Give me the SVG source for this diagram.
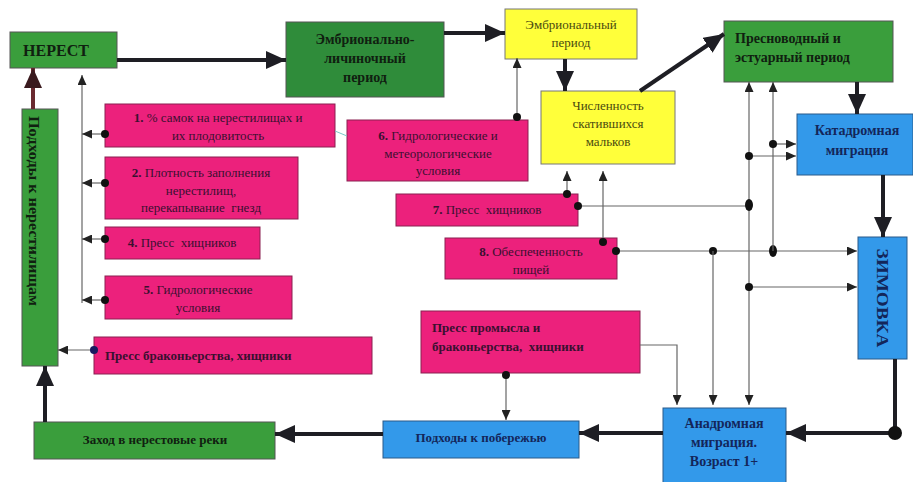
<svg xmlns="http://www.w3.org/2000/svg" width="913" height="482" viewBox="0 0 913 482">
<defs>
<style>
.green{fill:#3a9e3c;stroke:#555;stroke-width:1}
.dgreen{fill:#2f8c3a;stroke:#555;stroke-width:1}
.yellow{fill:#ffff3a;stroke:#777;stroke-width:1}
.blue{fill:#3399ea;stroke:#2a5a8a;stroke-width:1}
.pink{fill:#ec217c;stroke:#8a2050;stroke-width:1}
text{font-family:"Liberation Serif","Times New Roman",serif;text-anchor:middle;white-space:pre}
.b{font-weight:bold}
.tg{fill:#102010}
.tb{fill:#13265a}
.ty{fill:#4a4a10;font-size:13px}
.tp{fill:#3a1030;font-size:13px}
.thick{fill:none;stroke:#1e1e24;stroke-width:4}
.thin{fill:none;stroke:#666;stroke-width:1.2}
.dot{fill:#111}
</style>
<marker id="big" markerUnits="userSpaceOnUse" markerWidth="20" markerHeight="18" viewBox="0 0 20 18" refX="20" refY="9" orient="auto"><path d="M0,0 L20,9 L0,18 Z" fill="#1e1e24"/></marker>
<marker id="bigb" markerUnits="userSpaceOnUse" markerWidth="20" markerHeight="18" viewBox="0 0 20 18" refX="20" refY="9" orient="auto"><path d="M0,0 L20,9 L0,18 Z" fill="#3a1a1e"/></marker>
<marker id="sm" markerUnits="userSpaceOnUse" markerWidth="10" markerHeight="9" viewBox="0 0 10 9" refX="10" refY="4.5" orient="auto"><path d="M0,0 L10,4.5 L0,9 Z" fill="#222"/></marker>
</defs>

<g id="nerest">
<rect class="green" x="10" y="32" width="107" height="36"/>
<text class="b tg" x="56" y="56" font-size="16">НЕРЕСТ</text>
</g>
<g id="embr-lich">
<rect class="dgreen" x="286" y="22" width="158" height="75"/>
<text class="b tg" x="365" y="44" font-size="14">Эмбрионально-</text>
<text class="b tg" x="365" y="63" font-size="14">личиночный</text>
<text class="b tg" x="365" y="82" font-size="14">период</text>
</g>
<g id="embr">
<rect class="yellow" x="505" y="9" width="132" height="50"/>
<text class="ty" x="571" y="29">Эмбриональный</text>
<text class="ty" x="571" y="47">период</text>
</g>
<g id="chisl">
<rect class="yellow" x="541" y="91" width="134" height="73"/>
<text class="ty" x="608" y="110">Численность</text>
<text class="ty" x="608" y="128">скатившихся</text>
<text class="ty" x="608" y="146">мальков</text>
</g>
<g id="presn">
<rect class="green" x="724" y="21" width="169" height="61"/>
<text class="b tg" x="735" y="43" font-size="14" style="text-anchor:start">Пресноводный и</text>
<text class="b tg" x="735" y="62" font-size="14" style="text-anchor:start">эстуарный период</text>
</g>
<g id="katadr">
<rect class="blue" x="797" y="114" width="116" height="61"/>
<text class="b tb" x="857" y="135" font-size="14">Катадромная</text>
<text class="b tb" x="857" y="155" font-size="14">миграция</text>
</g>
<g id="zimovka">
<rect class="blue" x="858" y="237" width="49" height="122"/>
<text class="b tb" font-size="17" transform="translate(877,298) rotate(90)" textLength="99" lengthAdjust="spacingAndGlyphs">ЗИМОВКА</text>
</g>
<g id="anadr">
<rect class="blue" x="663" y="408" width="123" height="76"/>
<text class="b tb" x="724" y="428" font-size="14">Анадромная</text>
<text class="b tb" x="724" y="447" font-size="14">миграция.</text>
<text class="b tb" x="724" y="466" font-size="14">Возраст 1+</text>
</g>
<g id="podh-pober">
<rect class="blue" x="383" y="421" width="196" height="37"/>
<text class="b tb" x="481" y="442" font-size="13">Подходы к побережью</text>
</g>
<g id="zahod">
<rect class="green" x="34" y="422" width="241" height="37"/>
<text class="b tg" x="155" y="444" font-size="13">Заход в нерестовые реки</text>
</g>
<g id="podh-nerest">
<rect class="green" x="22" y="109" width="36" height="257"/>
<text class="b tg" font-size="14" transform="translate(29,211) rotate(90)" textLength="190" lengthAdjust="spacingAndGlyphs">Подходы к нерестилищам</text>
</g>

<g id="f1">
<rect class="pink" x="105" y="104" width="230" height="43"/>
<text class="tp" x="218" y="122"><tspan class="b">1.</tspan> % самок на нерестилищах и</text>
<text class="tp" x="218" y="140">их плодовитость</text>
</g>
<g id="f2">
<rect class="pink" x="105" y="157" width="193" height="62"/>
<text class="tp" x="201" y="177"><tspan class="b">2.</tspan> Плотность заполнения</text>
<text class="tp" x="201" y="195">нерестилищ,</text>
<text class="tp" x="201" y="212">перекапывание  гнезд</text>
</g>
<g id="f4">
<rect class="pink" x="105" y="227" width="155" height="32"/>
<text class="tp" x="182" y="247"><tspan class="b">4.</tspan> Пресс  хищников</text>
</g>
<g id="f5">
<rect class="pink" x="105" y="276" width="187" height="43"/>
<text class="tp" x="198" y="294"><tspan class="b">5.</tspan> Гидрологические</text>
<text class="tp" x="198" y="312">условия</text>
</g>
<g id="f-brak">
<rect class="pink" x="94" y="337" width="278" height="37"/>
<text class="tp b" x="105" y="360" font-size="14" style="text-anchor:start">Пресс браконьерства, хищники</text>
</g>
<g id="f6">
<rect class="pink" x="347" y="120" width="181" height="61"/>
<text class="tp" x="438" y="140"><tspan class="b">6.</tspan> Гидрологические и</text>
<text class="tp" x="438" y="158">метеорологические</text>
<text class="tp" x="438" y="175">условия</text>
</g>
<g id="f7">
<rect class="pink" x="396" y="194" width="182" height="32"/>
<text class="tp" x="487" y="214"><tspan class="b">7.</tspan> Пресс  хищников</text>
</g>
<g id="f8">
<rect class="pink" x="445" y="238" width="172" height="41"/>
<text class="tp" x="531" y="256"><tspan class="b">8.</tspan> Обеспеченность</text>
<text class="tp" x="531" y="274">пищей</text>
</g>
<g id="f-promysl">
<rect class="pink" x="421" y="311" width="219" height="62"/>
<text class="tp b" x="432" y="332" font-size="15" style="text-anchor:start">Пресс промысла и</text>
<text class="tp b" x="432" y="351" font-size="15" style="text-anchor:start">браконьерства,  хищники</text>
</g>

<g id="connectors">
<path class="thick" d="M117,60 H286" marker-end="url(#big)"/>
<path class="thick" d="M444,33 H505" marker-end="url(#big)"/>
<path class="thick" d="M565,59 V91" marker-end="url(#big)"/>
<path class="thick" d="M640,91 L724,34" marker-end="url(#big)"/>
<path class="thick" d="M857,82 V114" marker-end="url(#big)"/>
<path class="thick" d="M883,175 V237" marker-end="url(#big)"/>
<path class="thick" d="M895,359 V433 H786" marker-end="url(#big)"/>
<circle class="dot" cx="895" cy="433" r="7"/>
<path class="thick" d="M663,433 H579" marker-end="url(#big)"/>
<path class="thick" d="M383,434 H275" marker-end="url(#big)"/>
<path class="thick" d="M45,422 V366" marker-end="url(#big)"/>
<path d="M33,109 V68" fill="none" stroke="#6a2a30" stroke-width="4" marker-end="url(#bigb)"/>

<path class="thin" d="M82,303 V75" marker-end="url(#sm)"/>
<path class="thin" d="M105,134 H82" marker-end="url(#sm)"/>
<path class="thin" d="M105,183 H82" marker-end="url(#sm)"/>
<path class="thin" d="M105,239 H82" marker-end="url(#sm)"/>
<path class="thin" d="M105,300 H82" marker-end="url(#sm)"/>
<circle class="dot" cx="105" cy="134" r="4"/>
<circle class="dot" cx="105" cy="183" r="4"/>
<circle class="dot" cx="105" cy="239" r="4"/>
<circle class="dot" cx="105" cy="300" r="4"/>
<path class="thin" d="M94,350 H58" marker-end="url(#sm)"/>
<circle cx="94" cy="350" r="4" fill="#1a1a60"/>
<path d="M335,131 L347,136" fill="none" stroke="#7ac8c8" stroke-width="1"/>

<path class="thin" d="M517,118 V58" marker-end="url(#sm)"/>
<circle class="dot" cx="517" cy="117" r="4"/>
<path class="thin" d="M567,194 V171" marker-end="url(#sm)"/>
<circle class="dot" cx="567" cy="194" r="4"/>
<path class="thin" d="M603,242 V171" marker-end="url(#sm)"/>
<circle class="dot" cx="603" cy="242" r="4"/>
<path class="thin" d="M578,206 H749"/>
<circle class="dot" cx="578" cy="206" r="4"/>
<path class="thin" d="M617,251 H857" marker-end="url(#sm)"/>
<circle class="dot" cx="616" cy="251" r="4"/>
<circle class="dot" cx="713" cy="251" r="4"/>
<ellipse class="dot" cx="773" cy="251" rx="4" ry="6"/>

<path class="thin" d="M749,290 V82" marker-end="url(#sm)"/>
<path class="thin" d="M749,286 V405" marker-end="url(#sm)"/>
<path class="thin" d="M773,251 V82" marker-end="url(#sm)"/>
<path class="thin" d="M773,144 H796" marker-end="url(#sm)"/>
<circle class="dot" cx="773" cy="144" r="4"/>
<path class="thin" d="M749,156 H796" marker-end="url(#sm)"/>
<circle class="dot" cx="749" cy="156" r="4"/>
<ellipse class="dot" cx="749" cy="205" rx="4" ry="6"/>
<path class="thin" d="M749,287 H857" marker-end="url(#sm)"/>
<circle class="dot" cx="749" cy="287" r="4"/>
<path class="thin" d="M713,251 V405" marker-end="url(#sm)"/>
<path class="thin" d="M640,345 H677 V405" marker-end="url(#sm)"/>
<path class="thin" d="M506,374 V420" marker-end="url(#sm)"/>
<circle class="dot" cx="506" cy="375" r="4"/>
</g>
</svg>
